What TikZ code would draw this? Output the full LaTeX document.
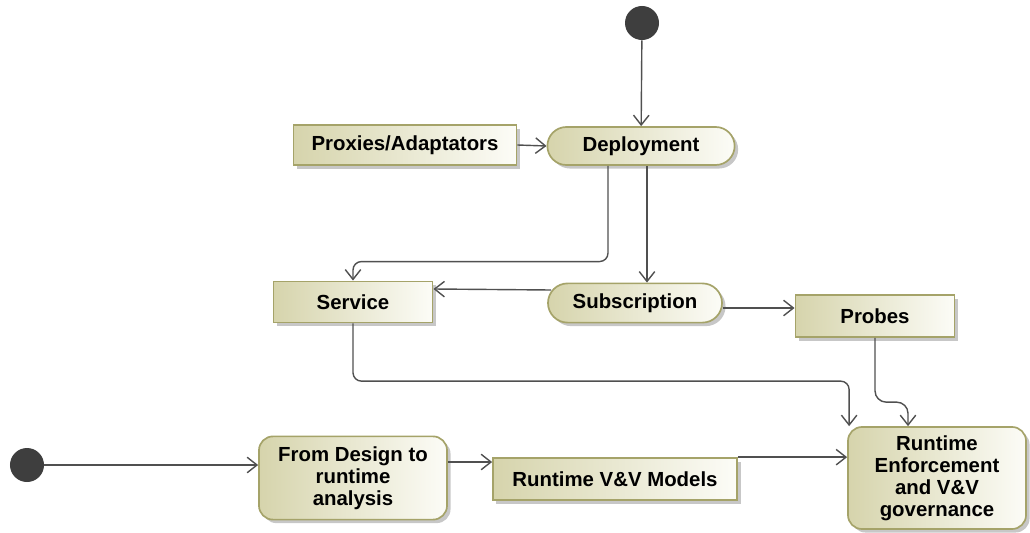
\documentclass[tikz,border=0pt]{standalone}
\usepackage{fontspec}
\setmainfont{Liberation Sans}
\usetikzlibrary{arrows.meta, positioning, calc, shadows}
\definecolor{olivefill}{RGB}{214, 212, 172}
\definecolor{olivelight}{RGB}{252, 252, 247}
\definecolor{oliveedge}{RGB}{165, 163, 105}
\definecolor{flowgray}{RGB}{80, 80, 80}
\definecolor{dotgray}{RGB}{62, 62, 62}

\begin{document}
\begin{tikzpicture}[x=0.025cm, y=-0.025cm,
  actbox/.style={draw=oliveedge, line width=1.2pt, left color=olivefill, right color=olivelight,
    drop shadow={shadow xshift=2.5pt, shadow yshift=-2.5pt, fill=black!22, opacity=1},
    inner sep=0pt, align=center, font=\fontsize{14.5}{15.6}\selectfont\bfseries},
  initdot/.style={circle, fill=dotgray, minimum size=0.85cm, inner sep=0pt},
  flow/.style={draw=flowgray, line width=1pt, -{Straight Barb[length=7pt, width=11pt]}}]

  \useasboundingbox (0,0) rectangle (1030,532);

  % Start of the deployment branch
  \node[initdot] (start) at (642, 23) {};
  \node[actbox, minimum width=5.58cm, minimum height=1cm] (proxies) at (405, 145) {Proxies/Adaptators};
  \node[actbox, rounded corners=0.475cm, minimum width=4.68cm, minimum height=0.95cm] (deploy) at (641, 146) {Deployment};

  % Second row
  \node[actbox, minimum width=3.98cm, minimum height=1.03cm] (service) at (353, 302) {Service};
  \node[actbox, rounded corners=0.49cm, minimum width=4.35cm, minimum height=0.98cm] (subscr) at (635, 303) {Subscription};
  \node[actbox, minimum width=3.98cm, minimum height=1.05cm] (probes) at (875, 316) {Probes};

  % Design branch
  \node[initdot] (startdesign) at (27, 465) {};
  \node[actbox, rounded corners=0.35cm, minimum width=4.7cm, minimum height=2.08cm] (design) at (353, 478) {From Design to\\runtime\\analysis};
  \node[actbox, minimum width=6.1cm, minimum height=1.05cm] (models) at (615, 479) {Runtime V\&V Models};
  \node[actbox, rounded corners=0.35cm, minimum width=4.45cm, minimum height=2.55cm] (enforce) at (937, 478) {Runtime\\Enforcement\\and V\&V\\governance};

  % Flows
  \draw[flow] (start) -- (deploy);
  \draw[flow] (proxies.east) -- (deploy.west);
  \draw[flow, rounded corners=6pt] ($(deploy.south)+(-33,0)$) |- ($(service.north)+(0,-19)$) -- (service.north);
  \coordinate (dsub) at ($(deploy.south)+(6,0)$);
  \draw[flow] (dsub) -- (dsub |- subscr.north);
  \draw[flow] ($(subscr.west)+(4,-13)$) -- ($(service.east)+(0,-13)$);
  \draw[flow] ($(subscr.east)+(0,5)$) -- ($(probes.west)+(0,-8)$);
  \draw[flow, rounded corners=6pt] (service.south) |- ($(enforce.north west)+(2,-45)$) -- ($(enforce.north west)+(2,0)$);
  \draw[flow, rounded corners=8pt] (probes.south) |- ($(enforce.north)+(-29,-24)$) -- ($(enforce.north)+(-29,0)$);
  \draw[flow] (startdesign) -- (startdesign -| design.west);
  \draw[flow] ($(design.east)+(0,-16)$) -- ($(models.west)+(0,-17)$);
  \draw[flow] (models.north east) -- (models.north east -| enforce.west);
\end{tikzpicture}
\end{document}
